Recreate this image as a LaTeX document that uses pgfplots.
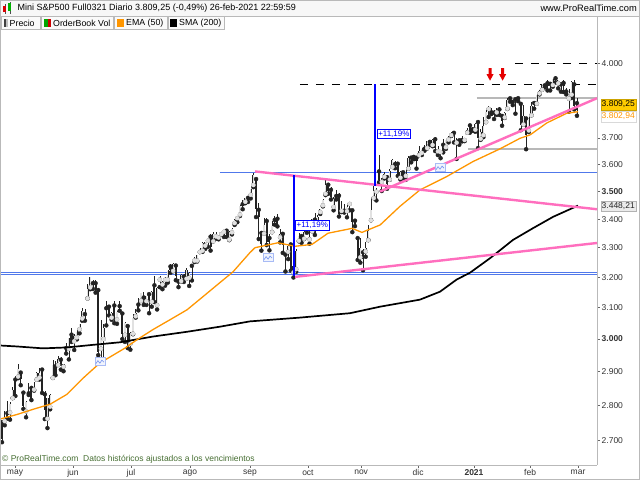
\documentclass[border=0pt]{standalone}
\usepackage{pgfplots}
\pgfplotsset{compat=1.18}
\usepackage{pgfplotstable}
\usepackage{fontspec}
\setmainfont{Liberation Sans}
\definecolor{emaor}{RGB}{255,150,0}
\definecolor{pinkl}{RGB}{255,110,190}
\definecolor{hblue}{RGB}{80,120,235}
\definecolor{vblue}{RGB}{0,0,255}
\definecolor{goldbox}{RGB}{255,204,0}
\definecolor{framegray}{RGB}{185,185,185}
\definecolor{crgreen}{RGB}{70,110,50}
\definecolor{upgray}{RGB}{225,225,225}
\definecolor{candleblk}{RGB}{35,35,35}

\pgfplotstableread{
i o h l c
0 2751 2752 2694 2704
1 2754 2782 2742 2766
2 2777 2811 2761 2765
3 2779 2809 2758 2804
4 2821 2854 2821 2845
5 2876 2888 2827 2830
6 2885 2922 2880 2907
7 2897 2897 2859 2879
8 2837 2837 2789 2798
9 2782 2811 2765 2810
10 2835 2865 2830 2835
11 2851 2858 2815 2815
12 2846 2868 2843 2848
13 2876 2899 2876 2897
14 2882 2912 2876 2897
15 2906 2912 2836 2837
16 2832 2842 2760 2787
17 2761 2819 2734 2820
18 2796 2832 2788 2831
19 2881 2935 2881 2921
20 2916 2931 2889 2890
21 2920 2947 2920 2939
22 2936 2946 2906 2916
23 2915 2923 2901 2922
24 2972 2988 2955 2959
25 2970 3004 2937 3003
26 3014 3035 2991 2997
27 2993 3017 2966 3011
28 3005 3030 2999 3023
29 3031 3048 3018 3048
30 3065 3098 3058 3090
31 3079 3095 3058 3079
32 3130 3178 3130 3161
33 3166 3200 3160 3199
34 3180 3189 3161 3174
35 3180 3190 3149 3157
36 3157 3165 2950 2960
37 2970 3060 2935 3008
38 3000 3046 2932 3034
39 3098 3120 3043 3092
40 3103 3108 3075 3080
41 3068 3087 3061 3082
42 3107 3122 3050 3065
43 3062 3088 3048 3085
44 3105 3122 3090 3098
45 3081 3083 3000 3017
46 3013 3053 2991 3051
47 3041 3041 2972 2976
48 2985 3021 2967 3020
49 3017 3078 3015 3067
50 3072 3095 3068 3083
51 3110 3132 3091 3097
52 3122 3149 3122 3147
53 3133 3151 3109 3112
54 3121 3138 3109 3137
55 3144 3147 3082 3119
56 3119 3153 3103 3152
57 3173 3203 3118 3122
58 3108 3167 3094 3165
59 3192 3205 3167 3194
60 3176 3188 3160 3183
61 3191 3200 3172 3192
62 3192 3225 3182 3219
63 3236 3244 3215 3224
64 3221 3247 3220 3243
65 3239 3246 3190 3203
66 3185 3194 3167 3183
67 3187 3209 3186 3206
68 3202 3210 3184 3185
69 3195 3230 3195 3225
70 3198 3218 3171 3213
71 3238 3240 3189 3238
72 3256 3269 3251 3262
73 3256 3274 3253 3274
74 3285 3298 3285 3295
75 3290 3319 3286 3316
76 3307 3320 3296 3318
77 3324 3331 3303 3327
78 3338 3349 3290 3301
79 3322 3354 3322 3347
80 3339 3355 3331 3340
81 3335 3345 3329 3340
82 3347 3355 3346 3349
83 3355 3363 3337 3357
84 3359 3366 3337 3342
85 3328 3358 3326 3353
86 3353 3367 3346 3364
87 3386 3400 3379 3398
88 3403 3411 3389 3411
89 3416 3449 3411 3446
90 3453 3469 3435 3452
91 3462 3477 3457 3475
92 3476 3481 3461 3467
93 3487 3509 3474 3507
94 3523 3568 3515 3561
95 3545 3545 3407 3435
96 3433 3459 3330 3407
97 3351 3359 3290 3312
98 3349 3405 3349 3379
99 3393 3405 3309 3319
100 3333 3348 3291 3321
101 3354 3392 3354 3374
102 3397 3410 3380 3391
103 3401 3419 3374 3375
104 3336 3366 3318 3347
105 3348 3353 3282 3309
106 3276 3276 3219 3271
107 3286 3310 3261 3306
108 3311 3313 3222 3227
109 3216 3269 3199 3237
110 3227 3296 3218 3288
111 3324 3350 3322 3342
112 3340 3348 3317 3325
113 3331 3383 3330 3353
114 3375 3387 3352 3371
115 3329 3359 3314 3338
116 3357 3400 3357 3399
117 3398 3422 3344 3351
118 3375 3416 3375 3409
119 3425 3437 3418 3437
120 3449 3472 3445 3467
121 3491 3540 3486 3524
122 3524 3524 3491 3502
123 3505 3517 3470 3479
124 3443 3479 3431 3473
125 3483 3505 3470 3474
126 3484 3493 3409 3417
127 3429 3466 3425 3433
128 3430 3454 3423 3426
129 3428 3450 3406 3443
130 3454 3456 3431 3455
131 3431 3431 3354 3391
132 3394 3401 3375 3381
133 3333 3333 3258 3261
134 3267 3332 3249 3300
135 3284 3295 3223 3260
136 3287 3320 3269 3300
137 3326 3379 3326 3359
138 3396 3476 3396 3433
139 3475 3519 3475 3500
140 3498 3511 3467 3499
141 3573 3636 3533 3541
142 3534 3547 3501 3536
143 3553 3572 3547 3563
144 3552 3559 3509 3527
145 3543 3583 3542 3575
146 3590 3618 3590 3617
147 3601 3614 3585 3600
148 3602 3609 3557 3558
149 3550 3576 3543 3572
150 3570 3572 3547 3548
151 3557 3579 3542 3568
152 3584 3633 3584 3625
153 3625 3625 3607 3620
154 3628 3635 3619 3628
155 3624 3624 3584 3612
156 3635 3668 3635 3652
157 3643 3660 3635 3659
158 3659 3673 3651 3657
159 3661 3689 3660 3689
160 3685 3688 3674 3682
161 3673 3698 3668 3692
162 3695 3703 3650 3663
163 3649 3668 3635 3658
164 3646 3655 3623 3653
165 3674 3696 3645 3645
166 3665 3693 3658 3693
167 3694 3709 3683 3699
168 3711 3723 3708 3720
169 3720 3724 3683 3707
170 3682 3701 3620 3693
171 3691 3696 3674 3685
172 3692 3709 3687 3688
173 3692 3701 3688 3701
174 3721 3738 3721 3733
175 3749 3754 3721 3725
176 3734 3742 3728 3730
177 3732 3758 3724 3754
178 3762 3768 3661 3699
179 3697 3736 3693 3725
180 3711 3782 3703 3746
181 3762 3809 3762 3802
182 3814 3824 3782 3823
183 3801 3816 3794 3798
184 3799 3809 3774 3799
185 3800 3819 3790 3808
186 3812 3821 3790 3794
187 3786 3786 3748 3766
188 3780 3803 3778 3797
189 3815 3858 3814 3850
190 3856 3859 3843 3851
191 3842 3850 3829 3839
192 3853 3858 3795 3853
193 3857 3860 3845 3848
194 3834 3834 3730 3749
195 3753 3828 3753 3785
196 3776 3778 3657 3712
197 3729 3782 3723 3772
198 3789 3841 3789 3824
199 3838 3845 3815 3828
200 3835 3870 3835 3870
201 3876 3892 3872 3885
202 3891 3914 3891 3914
203 3909 3916 3900 3909
204 3918 3929 3888 3908
205 3915 3923 3888 3914
206 3910 3935 3904 3933
207 3938 3948 3921 3931
208 3917 3931 3897 3929
209 3913 3919 3883 3912
210 3919 3929 3882 3905
211 3884 3899 3872 3875
212 3855 3893 3803 3879
213 3871 3926 3858 3923
214 3913 3932 3812 3827
215 3837 3859 3787 3809
}\candles

\begin{document}
\begin{tikzpicture}[x=1pt,y=1pt]
\useasboundingbox (0,0) rectangle (640,480);
\fill[white] (0,0) rectangle (640,480);
% title bar
\fill[gray!6] (0,464) rectangle (640,480);
\draw[framegray] (0,464) -- (640,464);
% candle icon
\draw[black!70, line width=0.5pt] (4.8,466) -- (4.8,476);
\fill[red!85!black] (3.3,467.5) rectangle (6.3,473.5);
\draw[black!70, line width=0.5pt] (9.8,466) -- (9.8,478);
\fill[green!70!black] (8.3,468.5) rectangle (11.3,477);
\node[anchor=west, font=\fontsize{9}{10}\selectfont, inner sep=0pt] at (17.5,471.5) {Mini S\&P500 Full0321 Diario 3.809,25 (-0,49\%) 26-feb-2021 22:59:59};
\node[anchor=east, font=\fontsize{9.3}{10}\selectfont, inner sep=0pt] at (637,471.5) {www.ProRealTime.com};
% legend strip
\draw[framegray, fill=gray!4] (1,451) rectangle (40,463.5);
\draw[framegray, fill=gray!4] (41,451) rectangle (113,463.5);
\draw[framegray, fill=gray!4] (114,451) rectangle (167,463.5);
\draw[framegray, fill=gray!4] (168,451) rectangle (224,463.5);
\fill[black!75] (4,453) rectangle (6,461);
\fill[black!25] (6,453) rectangle (8,461);
\fill[green!65!black] (44,453) rectangle (47.5,461);
\fill[red!80!black] (47.5,453) rectangle (51,461);
\fill[emaor] (117,453) rectangle (124,461);
\fill[black] (170,453) rectangle (177,461);
\node[anchor=west, font=\fontsize{8.8}{10}\selectfont, inner sep=0pt] at (9.5,457) {Precio};
\node[anchor=west, font=\fontsize{8.8}{10}\selectfont, inner sep=0pt] at (53,457) {OrderBook Vol};
\node[anchor=west, font=\fontsize{8.8}{10}\selectfont, inner sep=0pt] at (126,457) {EMA (50)};
\node[anchor=west, font=\fontsize{8.8}{10}\selectfont, inner sep=0pt] at (179,457) {SMA (200)};

% ---------- base axis: reference lines and candles ----------
\begin{axis}[
  at={(0pt,15pt)}, anchor=south west,
  scale only axis, width=597pt, height=449pt,
  xmin=-0.75, xmax=222.5,
  ymode=log, ymin=2631, ymax=4202,
  axis x line*=bottom, axis y line*=right,
  axis line style={draw=framegray, line width=0.8pt},
  ytick={2700,2800,2900,3000,3100,3200,3300,3400,3500,3600,3700,4000},
  yticklabels={2.700,2.800,2.900,\textbf{3.000},3.100,3.200,3.300,3.400,\textbf{3.500},3.600,3.700,4.000},
  yminorticks=false, xminorticks=false,
  tick align=outside, major tick length=3pt,
  tick style={draw=black!60, line width=0.5pt},
  xtick={4.86,26.55,48.2,70.3,92.75,114.4,134.3,155.6,176.5,197.5,215.4},
  xticklabels={may,jun,jul,ago,sep,oct,nov,dic,\textbf{2021},feb,mar},
  xticklabel style={font=\fontsize{8.5}{9}\selectfont, text=black!80, inner sep=1.5pt},
  yticklabel style={font=\fontsize{8.5}{9}\selectfont, text=black!80, inner sep=1.5pt, anchor=west},
]
\addplot[hblue, line width=0.7pt, forget plot] coordinates {(-0.75,3216) (222.5,3216)};
\addplot[hblue, line width=0.7pt, forget plot] coordinates {(-0.75,3208) (222.5,3208)};
\addplot[hblue, line width=0.8pt, forget plot] coordinates {(81.5,3568) (222.5,3568)};
\addplot[black, line width=0.8pt, dash pattern=on 8pt off 8pt, forget plot] coordinates {(111.4,3914) (222.5,3914)};
\addplot[black, line width=0.8pt, dash pattern=on 8pt off 8pt, forget plot] coordinates {(191.8,4000) (222.5,4000)};
\addplot[black!28, line width=1.8pt, forget plot] coordinates {(177.6,3859) (222.5,3859)};
\addplot[black!28, line width=1.8pt, forget plot] coordinates {(174.3,3657) (222.5,3657)};
% wicks
\addplot[only marks, mark=none, candleblk, forget plot,
  error bars/.cd, y dir=plus, y explicit, error mark=none,
  error bar style={line width=0.55pt, candleblk, line cap=butt}]
  table[x=i, y=l, y error expr=\thisrow{h}-\thisrow{l}] {\candles};
% bodies (outline / down candles)
\addplot[only marks, mark=none, candleblk, forget plot,
  error bars/.cd, y dir=plus, y explicit, error mark=none,
  error bar style={line width=2.1pt, candleblk, line cap=butt}]
  table[x=i, y=o, y error expr=\thisrow{c}-\thisrow{o}] {\candles};
% up candle interiors
\addplot[only marks, mark=none, upgray, forget plot,
  x filter/.expression={\thisrow{c}>\thisrow{o} ? x : nan},
  error bars/.cd, y dir=plus, y explicit, error mark=none,
  error bar style={line width=1.2pt, upgray, line cap=butt}]
  table[x=i, y=o, y error expr=\thisrow{c}-\thisrow{o}] {\candles};
\end{axis}

% ---------- overlay axis: indicators and drawings ----------
\begin{axis}[
  at={(0pt,15pt)}, anchor=south west,
  scale only axis, width=597pt, height=449pt,
  xmin=-0.75, xmax=222.5,
  ymode=log, ymin=2631, ymax=4202,
  hide axis, clip=true]
% SMA 200
\addplot[black, line width=1.7pt] coordinates {
(-0.75,2980) (5.6,2977) (15.3,2971) (24.3,2974) (34,2982) (44.1,2990) (56.5,3008) (69.2,3023)
(81.5,3039) (92.7,3056) (111.4,3068) (130.1,3082) (141.4,3103) (156.3,3126) (163.8,3152)
(170,3192) (175,3215) (182.5,3264) (191.1,3327) (198.6,3368) (206.1,3408) (215.4,3448)};
% EMA 50
\addplot[emaor, line width=1.3pt] coordinates {
(-0.75,2760) (5.6,2773) (11.6,2788) (18,2803) (24.3,2832) (30.3,2880) (36.6,2926) (46,2972)
(50.5,2998) (56.5,3030) (62.8,3061) (69.2,3093) (75.2,3136) (81.5,3182) (86.4,3218)
(92.7,3283) (94.6,3300) (103.2,3317) (109.6,3305) (115.9,3311) (121.9,3350) (130.9,3367)
(134.6,3353) (141.4,3379) (148.8,3445) (156.3,3505) (166.3,3554) (176.1,3610)
(186.2,3658) (193.7,3699) (197.5,3712) (203.7,3758) (211.2,3797) (215.4,3803)};
% pink trend lines
\addplot[pinkl, line width=2.4pt] coordinates {(94.6,3573) (222.5,3435)};
\addplot[pinkl, line width=2.4pt] coordinates {(109.6,3201) (222.5,3316)};
\addplot[pinkl, line width=2.4pt] coordinates {(141.4,3499) (222.5,3857)};
% blue measurement lines
\addplot[vblue, line width=2.6pt] coordinates {(109.2,3203) (109.2,3561)};
\addplot[vblue, line width=2.6pt] coordinates {(139.5,3520) (139.5,3914)};
\node[draw=vblue, fill=white, text=vblue, font=\fontsize{8}{9}\selectfont, inner sep=1.3pt, anchor=west, line width=0.6pt] at (axis cs:109.6,3378) {+11,19\%};
\node[draw=vblue, fill=white, text=vblue, font=\fontsize{8}{9}\selectfont, inner sep=1.3pt, anchor=west, line width=0.6pt] at (axis cs:140.1,3716) {+11,19\%};
% red arrows
\fill[red!90!black] (axis cs:182.5,3928) -- ++(-3.5pt,6.5pt) -- ++(2pt,0pt) -- ++(0pt,6pt) -- ++(3pt,0pt) -- ++(0pt,-6pt) -- ++(2pt,0pt) -- cycle;
\fill[red!90!black] (axis cs:187.2,3928) -- ++(-3.5pt,6.5pt) -- ++(2pt,0pt) -- ++(0pt,6pt) -- ++(3pt,0pt) -- ++(0pt,-6pt) -- ++(2pt,0pt) -- cycle;
% small trade icons
\draw[hblue!50, line width=0.4pt, fill=hblue!8] (axis cs:36.6,2930) ++(-5pt,-4pt) rectangle ++(10pt,8pt);
\draw[hblue!80, line width=0.6pt] (axis cs:36.6,2930) ++(-4pt,-2pt) -- ++(2pt,3pt) -- ++(2pt,-2.5pt) -- ++(2pt,3pt) -- ++(2pt,-2pt);
\draw[hblue!50, line width=0.4pt, fill=hblue!8] (axis cs:99.5,3266) ++(-5pt,-4pt) rectangle ++(10pt,8pt);
\draw[hblue!80, line width=0.6pt] (axis cs:99.5,3266) ++(-4pt,-2pt) -- ++(2pt,3pt) -- ++(2pt,-2.5pt) -- ++(2pt,3pt) -- ++(2pt,-2pt);
\draw[hblue!50, line width=0.4pt, fill=hblue!8] (axis cs:163.8,3587) ++(-5pt,-4pt) rectangle ++(10pt,8pt);
\draw[hblue!80, line width=0.6pt] (axis cs:163.8,3587) ++(-4pt,-2pt) -- ++(2pt,3pt) -- ++(2pt,-2.5pt) -- ++(2pt,3pt) -- ++(2pt,-2pt);
\end{axis}
% right axis extension and price boxes
\draw[framegray, line width=0.8pt] (597,449) -- (597,464);
\node[fill=goldbox, draw=goldbox!80!black, font=\fontsize{8.5}{9}\selectfont, inner sep=1pt, anchor=west, minimum height=11pt] at (600.5,375.5) {3.809,25};
\node[fill=white, draw=black!15, text=emaor, font=\fontsize{8.5}{9}\selectfont, inner sep=1pt, anchor=west, minimum height=11pt] at (600.5,363.5) {3.802,94};
\node[fill=black!8, draw=black!30, text=black!85, font=\fontsize{8.5}{9}\selectfont, inner sep=1pt, anchor=west, minimum height=10pt] at (600.5,274) {3.448,21};
% copyright
\node[anchor=west, text=crgreen, font=\fontsize{8.5}{9}\selectfont, inner sep=0pt] at (2,21) {© ProRealTime.com\ \ Datos históricos ajustados a los vencimientos};
\draw[framegray] (0.5,0.5) rectangle (639.5,479.5);
\end{tikzpicture}
\end{document}
